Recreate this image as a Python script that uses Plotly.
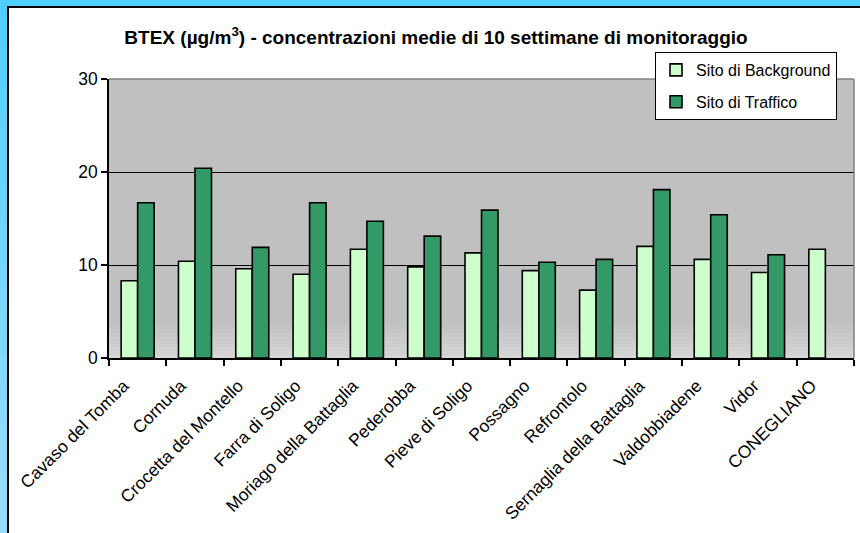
import plotly.graph_objects as go

# --- data -------------------------------------------------------------
siti = [
    "Cavaso del Tomba", "Cornuda", "Crocetta del Montello", "Farra di Soligo",
    "Moriago della Battaglia", "Pederobba", "Pieve di Soligo", "Possagno",
    "Refrontolo", "Sernaglia della Battaglia", "Valdobbiadene", "Vidor",
    "CONEGLIANO",
]
background = [8.3, 10.4, 9.6, 9.0, 11.7, 9.8, 11.3, 9.4, 7.3, 12.0, 10.6, 9.2, 11.7]
traffico = [16.7, 20.4, 11.9, 16.7, 14.7, 13.1, 15.9, 10.3, 10.6, 18.1, 15.4, 11.1, None]
y_ticks = [0, 10, 20, 30]

# --- page geometry (pixels) -------------------------------------------
W, H = 860, 533
L, R, T, B = 109, 6, 79, 175
PW, PH = W - L - R, H - T - B


def px(x):
    return (x - L) / PW


def py(y):
    return (H - B - y) / PH


FONT = "Liberation Sans, Arial, sans-serif"

fig = go.Figure()
fig.add_trace(go.Bar(
    x=siti, y=background, name="Sito di Background", legendgroup="a",
    marker=dict(color="#CCFFCC", line=dict(color="black", width=1.6)),
))
fig.add_trace(go.Bar(
    x=siti, y=traffico, name="Sito di Traffico", legendgroup="b",
    marker=dict(color="#339966", line=dict(color="black", width=1.6)),
))

shapes = []
# light blue frame: top band and a left band fading downwards
shapes.append(dict(type="rect", xref="paper", yref="paper", layer="below",
                   x0=px(0), x1=px(W), y0=py(0), y1=py(6),
                   fillcolor="#4FCFFF", line_width=0))
n = 24
c0, c1 = (79, 207, 255), (155, 221, 255)
for i in range(n):
    t = i / (n - 1)
    col = "rgb(%d,%d,%d)" % tuple(round(a + (b - a) * t) for a, b in zip(c0, c1))
    shapes.append(dict(type="rect", xref="paper", yref="paper", layer="below",
                       x0=px(0), x1=px(7), y0=py(H * i / n), y1=py(H * (i + 1) / n + 1),
                       fillcolor=col, line_width=0))
# black inner border of the frame
shapes.append(dict(type="line", xref="paper", yref="paper", layer="below",
                   x0=px(7), x1=px(W), y0=py(7), y1=py(7),
                   line=dict(color="black", width=2)))
shapes.append(dict(type="line", xref="paper", yref="paper", layer="below",
                   x0=px(8), x1=px(8), y0=py(6), y1=py(H),
                   line=dict(color="black", width=2)))
# subtle lightening at the bottom of the plot area
m = 10
g0, g1 = 192, 214
for i in range(m):
    t = (i + 1) / m
    g = round(g0 + (g1 - g0) * t)
    shapes.append(dict(type="rect", xref="paper", yref="paper", layer="below",
                       x0=0, x1=1, y0=py(H - B - 36 + 36 * i / m), y1=py(H - B - 36 + 36 * (i + 1) / m),
                       fillcolor="rgb(%d,%d,%d)" % (g, g, g), line_width=0))
# grey top and right edges of the plot area
shapes.append(dict(type="line", xref="paper", yref="paper", x0=0, x1=1, y0=1, y1=1,
                   line=dict(color="#808080", width=1.5)))
shapes.append(dict(type="line", xref="paper", yref="paper", x0=1, x1=1, y0=0, y1=1,
                   line=dict(color="#808080", width=1.5)))

fig.update_layout(
    width=W, height=H,
    margin=dict(l=L, r=R, t=T, b=B, pad=0),
    paper_bgcolor="white",
    plot_bgcolor="#C0C0C0",
    font=dict(family=FONT, color="black", size=16),
    title=dict(
        text="<b>BTEX (µg/m<sup>3</sup>) - concentrazioni medie di 10 settimane di monitoraggio</b>",
        font=dict(family=FONT, size=19, color="black"),
        xref="container", yref="container", x=436 / W, y=1 - 37 / H,
        xanchor="center", yanchor="middle",
    ),
    barmode="group", bargap=0.424, bargroupgap=0,
    showlegend=True,
    legend=dict(
        x=px(655), y=py(52), xanchor="left", yanchor="top",
        bgcolor="white", bordercolor="black", borderwidth=1,
        font=dict(family=FONT, size=16, color="black"),
        traceorder="grouped", tracegroupgap=8,
    ),
    shapes=shapes,
    xaxis=dict(
        type="category", tickangle=-45, tickson="boundaries",
        ticks="outside", ticklen=6, tickcolor="black", tickwidth=1.5,
        showline=True, linecolor="black", linewidth=1.5,
        showgrid=False, tickfont=dict(size=17.5),
        ticklabelstandoff=9, ticklabelshift=-14,
    ),
    yaxis=dict(
        range=[0, 30], tickvals=y_ticks,
        ticks="outside", ticklen=6, tickcolor="black", tickwidth=1.5,
        showline=True, linecolor="black", linewidth=1.5,
        showgrid=True, gridcolor="black", gridwidth=1.3, zeroline=False,
        tickfont=dict(size=17.5),
    ),
)

fig.write_html("out.html")
